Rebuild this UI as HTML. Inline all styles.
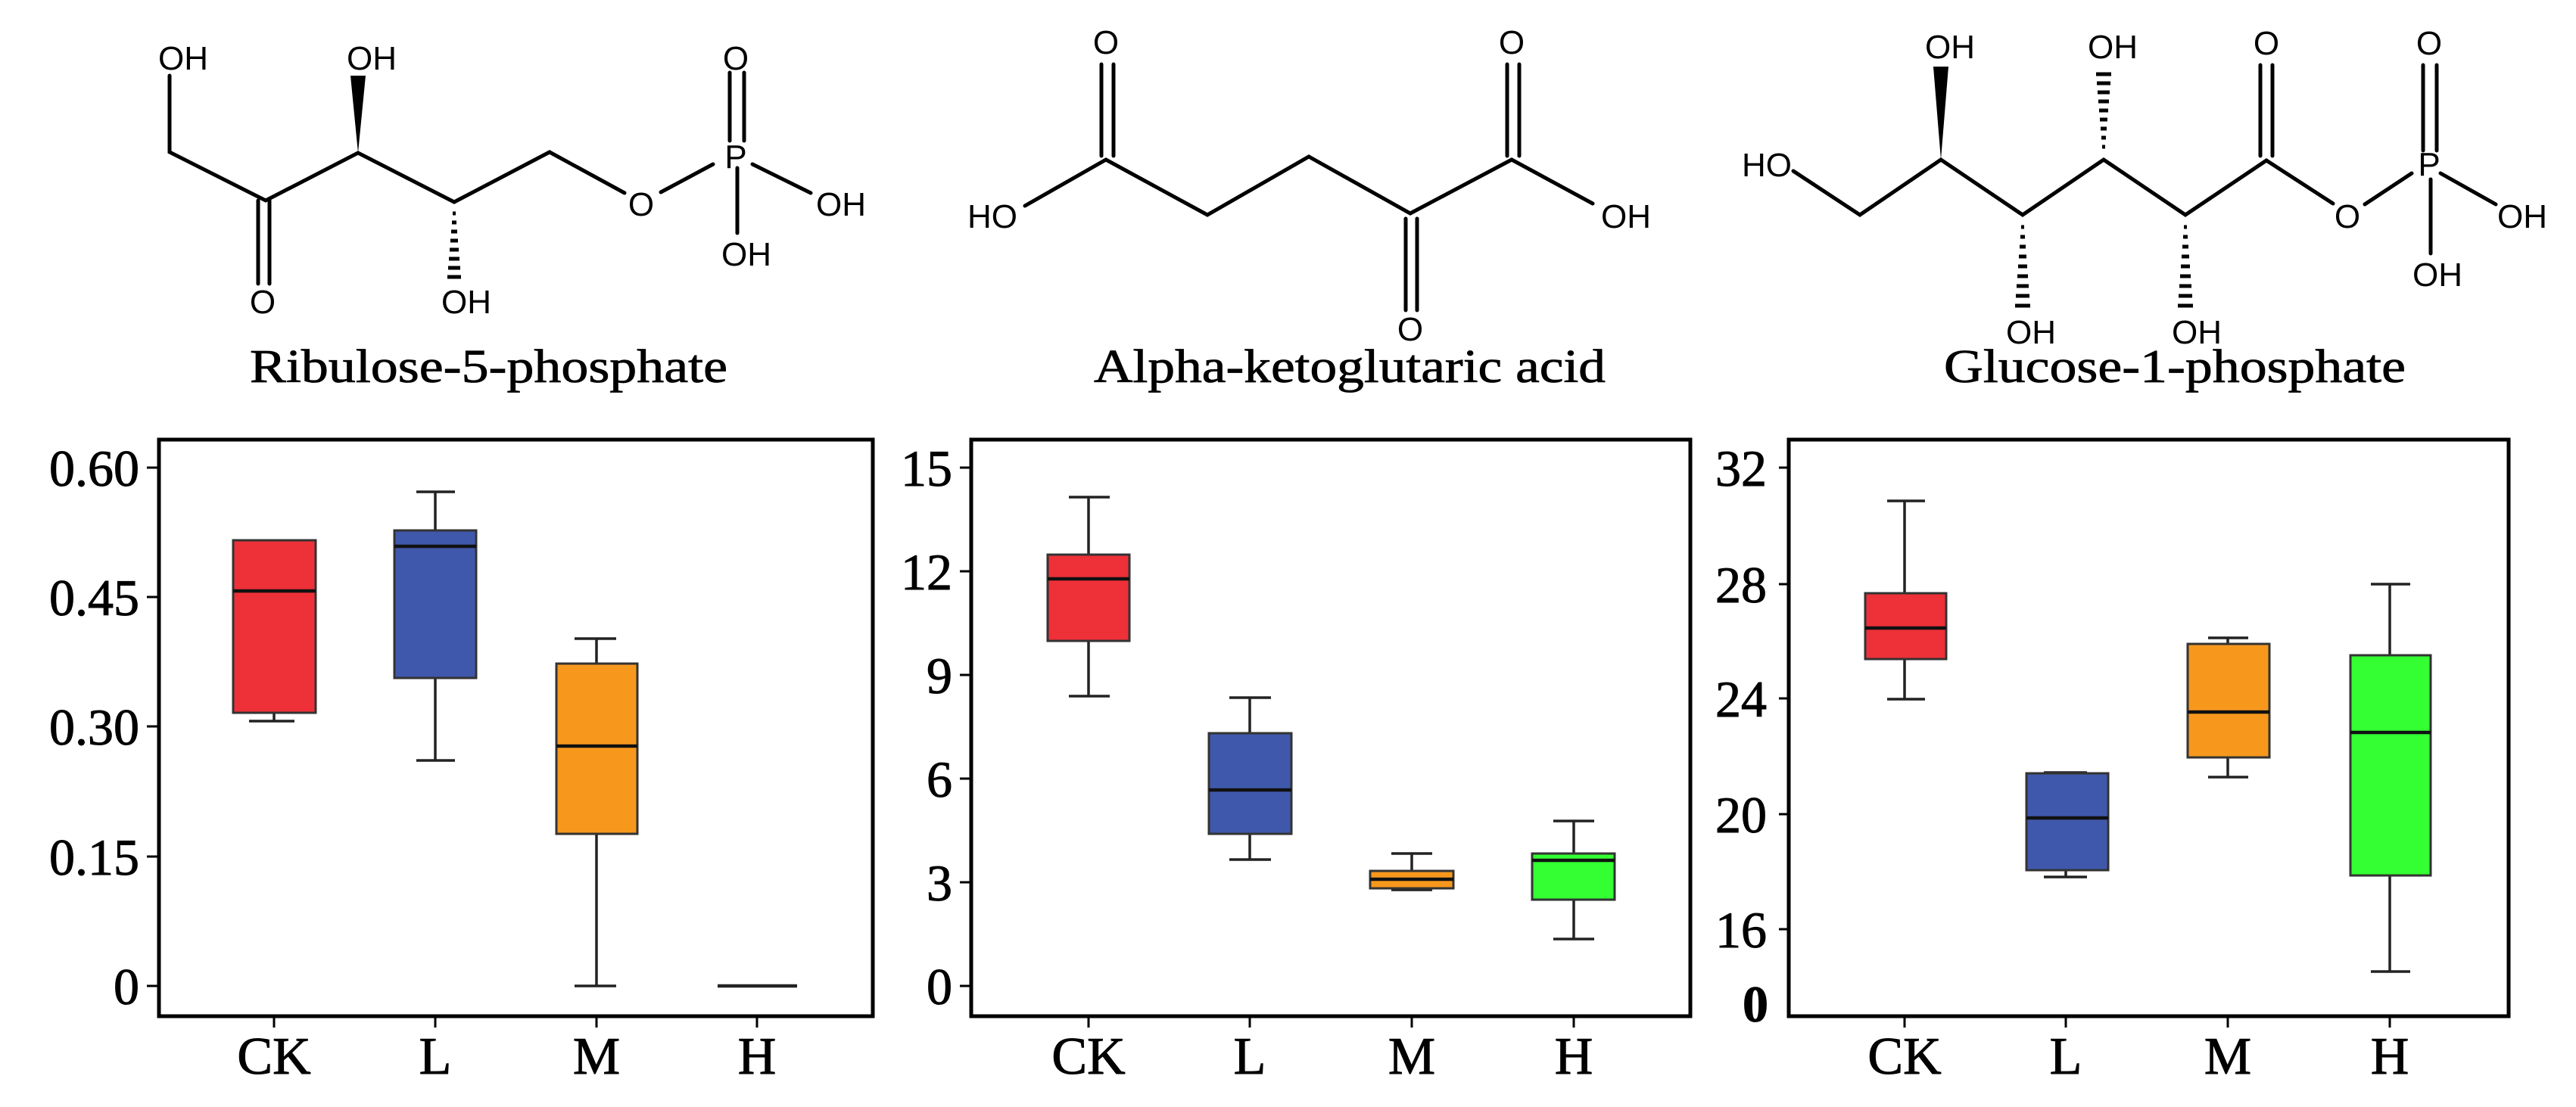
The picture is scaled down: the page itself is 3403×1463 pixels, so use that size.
<!DOCTYPE html>
<html><head><meta charset="utf-8"><style>html,body{margin:0;padding:0;background:#fff}svg{display:block}</style></head>
<body>
<svg width="3403" height="1463" viewBox="0 0 3403 1463" xmlns="http://www.w3.org/2000/svg">
<rect width="3403" height="1463" fill="#fff"/>
<!-- Molecule 1 -->
<g stroke="#000" stroke-width="5" fill="none" stroke-linecap="round">
<polyline points="224,100 224,201 351,265 473,202 600,267 726,201 825,255"/>
<line x1="341" y1="265" x2="341" y2="375"/><line x1="356" y1="265" x2="356" y2="375"/>
<line x1="873" y1="254" x2="942" y2="217"/>
<line x1="964" y1="186" x2="964" y2="96"/><line x1="983" y1="186" x2="983" y2="96"/>
<line x1="994" y1="217" x2="1071" y2="255"/>
<line x1="974" y1="222" x2="974" y2="308"/>
</g>
<polygon points="473,202 463,100 483,100" fill="#000"/>
<g stroke="#000" stroke-width="5">
<line x1="598" y1="282" x2="602" y2="282"/><line x1="597" y1="294" x2="603" y2="294"/><line x1="596" y1="306" x2="604" y2="306"/><line x1="595" y1="318" x2="605" y2="318"/><line x1="594" y1="330" x2="606" y2="330"/><line x1="593" y1="342" x2="607" y2="342"/><line x1="592" y1="354" x2="608" y2="354"/><line x1="591" y1="366" x2="609" y2="366"/>
</g>
<g font-family="Liberation Sans, sans-serif" font-size="44" text-anchor="middle" fill="#000">
<text x="242" y="92">OH</text><text x="491" y="92">OH</text><text x="347" y="414">O</text><text x="616" y="414">OH</text>
<text x="847" y="285">O</text><text x="972" y="222">P</text><text x="972" y="92">O</text><text x="1111" y="285">OH</text><text x="986" y="351">OH</text>
</g>
<!-- Molecule 2 -->
<g stroke="#000" stroke-width="5" fill="none" stroke-linecap="round">
<polyline points="1354,272 1461,211 1595,284 1729,207 1863,282 1997,211 2104,269"/>
<line x1="1455" y1="206" x2="1455" y2="85"/><line x1="1471" y1="206" x2="1471" y2="85"/>
<line x1="1857" y1="289" x2="1857" y2="410"/><line x1="1872" y1="289" x2="1872" y2="410"/>
<line x1="1991" y1="206" x2="1991" y2="85"/><line x1="2007" y1="206" x2="2007" y2="85"/>
</g>
<g font-family="Liberation Sans, sans-serif" font-size="44" text-anchor="middle" fill="#000">
<text x="1311" y="301">HO</text><text x="1461" y="71">O</text><text x="1863" y="450">O</text><text x="1997" y="71">O</text><text x="2148" y="301">OH</text>
</g>
<!-- Molecule 3 -->
<g stroke="#000" stroke-width="5" fill="none" stroke-linecap="round">
<polyline points="2369,226 2457,284 2564,211 2672,284 2779,211 2887,284 2994,212 3082,269"/>
<line x1="2986" y1="206" x2="2986" y2="86"/><line x1="3002" y1="206" x2="3002" y2="86"/>
<line x1="3124" y1="270" x2="3186" y2="229"/>
<line x1="3201" y1="199" x2="3201" y2="86"/><line x1="3219" y1="199" x2="3219" y2="86"/>
<line x1="3224" y1="229" x2="3297" y2="270"/>
<line x1="3211" y1="237" x2="3211" y2="335"/>
</g>
<polygon points="2564,211 2554,88 2574,88" fill="#000"/>
<g stroke="#000" stroke-width="5">
<line x1="2670" y1="300" x2="2674" y2="300"/><line x1="2669" y1="313" x2="2675" y2="313"/><line x1="2668" y1="326" x2="2676" y2="326"/><line x1="2667" y1="339" x2="2677" y2="339"/><line x1="2666" y1="352" x2="2678" y2="352"/><line x1="2665" y1="365" x2="2679" y2="365"/><line x1="2664" y1="378" x2="2680" y2="378"/><line x1="2663" y1="391" x2="2681" y2="391"/><line x1="2662" y1="404" x2="2682" y2="404"/>
<line x1="2885" y1="300" x2="2889" y2="300"/><line x1="2884" y1="313" x2="2890" y2="313"/><line x1="2883" y1="326" x2="2891" y2="326"/><line x1="2882" y1="339" x2="2892" y2="339"/><line x1="2881" y1="352" x2="2893" y2="352"/><line x1="2880" y1="365" x2="2894" y2="365"/><line x1="2879" y1="378" x2="2895" y2="378"/><line x1="2878" y1="391" x2="2896" y2="391"/><line x1="2877" y1="404" x2="2897" y2="404"/>
<line x1="2777" y1="194" x2="2781" y2="194"/><line x1="2776" y1="182" x2="2782" y2="182"/><line x1="2775" y1="170" x2="2783" y2="170"/><line x1="2774" y1="158" x2="2784" y2="158"/><line x1="2773" y1="146" x2="2785" y2="146"/><line x1="2772" y1="134" x2="2786" y2="134"/><line x1="2771" y1="122" x2="2787" y2="122"/><line x1="2770" y1="110" x2="2788" y2="110"/><line x1="2769" y1="98" x2="2789" y2="98"/>
</g>
<g font-family="Liberation Sans, sans-serif" font-size="44" text-anchor="middle" fill="#000">
<text x="2334" y="233">HO</text><text x="2576" y="77">OH</text><text x="2791" y="77">OH</text><text x="2683" y="454">OH</text><text x="2902" y="454">OH</text>
<text x="2994" y="72">O</text><text x="3101" y="301">O</text><text x="3209" y="232">P</text><text x="3209" y="72">O</text><text x="3332" y="301">OH</text><text x="3220" y="378">OH</text>
</g>
<!-- Titles -->
<g font-family="Liberation Serif, serif" font-size="62" fill="#000" stroke="#000" stroke-width="0.8">
<text x="330" y="505" textLength="631" lengthAdjust="spacingAndGlyphs">Ribulose-5-phosphate</text>
<text x="1445" y="505" textLength="676" lengthAdjust="spacingAndGlyphs">Alpha-ketoglutaric acid</text>
<text x="2568" y="505" textLength="610" lengthAdjust="spacingAndGlyphs">Glucose-1-phosphate</text>
</g>
<!-- Plot frames -->
<g fill="none" stroke="#000" stroke-width="5">
<rect x="210" y="581" width="943" height="762"/>
<rect x="1283" y="581" width="950" height="762"/>
<rect x="2363" y="581" width="951" height="762"/>
</g>
<!-- ticks -->
<g stroke="#000" stroke-width="3">
<line x1="194" y1="618" x2="210" y2="618"/><line x1="194" y1="789" x2="210" y2="789"/><line x1="194" y1="960" x2="210" y2="960"/><line x1="194" y1="1132" x2="210" y2="1132"/><line x1="194" y1="1303" x2="210" y2="1303"/>
<line x1="362" y1="1343" x2="362" y2="1358"/><line x1="575" y1="1343" x2="575" y2="1358"/><line x1="788" y1="1343" x2="788" y2="1358"/><line x1="1000" y1="1343" x2="1000" y2="1358"/>
<line x1="1268" y1="618" x2="1283" y2="618"/><line x1="1268" y1="755" x2="1283" y2="755"/><line x1="1268" y1="892" x2="1283" y2="892"/><line x1="1268" y1="1029" x2="1283" y2="1029"/><line x1="1268" y1="1166" x2="1283" y2="1166"/><line x1="1268" y1="1303" x2="1283" y2="1303"/>
<line x1="1438" y1="1343" x2="1438" y2="1358"/><line x1="1651" y1="1343" x2="1651" y2="1358"/><line x1="1865" y1="1343" x2="1865" y2="1358"/><line x1="2079" y1="1343" x2="2079" y2="1358"/>
<line x1="2350" y1="618" x2="2363" y2="618"/><line x1="2350" y1="772" x2="2363" y2="772"/><line x1="2350" y1="923" x2="2363" y2="923"/><line x1="2350" y1="1076" x2="2363" y2="1076"/><line x1="2350" y1="1228" x2="2363" y2="1228"/>
<line x1="2516" y1="1343" x2="2516" y2="1358"/><line x1="2729" y1="1343" x2="2729" y2="1358"/><line x1="2943" y1="1343" x2="2943" y2="1358"/><line x1="3157" y1="1343" x2="3157" y2="1358"/>
</g>
<!-- tick labels -->
<g font-family="Liberation Serif, serif" font-size="68" fill="#000" stroke="#000" stroke-width="1" text-anchor="end">
<text x="184" y="642">0.60</text><text x="184" y="813">0.45</text><text x="184" y="984">0.30</text><text x="184" y="1156">0.15</text><text x="184" y="1327">0</text>
<text x="1258" y="642">15</text><text x="1258" y="779">12</text><text x="1258" y="916">9</text><text x="1258" y="1053">6</text><text x="1258" y="1190">3</text><text x="1258" y="1327">0</text>
<text x="2334" y="642">32</text><text x="2334" y="796">28</text><text x="2334" y="947">24</text><text x="2334" y="1100">20</text><text x="2334" y="1252">16</text>
<text x="2336" y="1350" font-weight="bold">0</text>
</g>
<g font-family="Liberation Serif, serif" font-size="70" fill="#000" stroke="#000" stroke-width="1" text-anchor="middle">
<text x="362" y="1419">CK</text><text x="575" y="1419">L</text><text x="788" y="1419">M</text><text x="1000" y="1419">H</text>
<text x="1438" y="1419">CK</text><text x="1651" y="1419">L</text><text x="1865" y="1419">M</text><text x="2079" y="1419">H</text>
<text x="2516" y="1419">CK</text><text x="2729" y="1419">L</text><text x="2943" y="1419">M</text><text x="3157" y="1419">H</text>
</g>
<!-- whiskers -->
<g stroke="#222" stroke-width="3.5" fill="none">
<path d="M362,942V953M329,953H389"/>
<path d="M575,701V650M550,650H601M575,896V1005M550,1005H601"/>
<path d="M788,877V844M759,844H814M788,1102V1303M759,1303H814"/>
<path d="M948,1303H1053" stroke-width="4.5"/>
<path d="M1438,733V657M1412,657H1466M1438,847V920M1412,920H1466"/>
<path d="M1651,969V922M1624,922H1679M1651,1102V1136M1624,1136H1679"/>
<path d="M1865,1151V1128M1838,1128H1892M1865,1174V1176M1838,1176H1892"/>
<path d="M2079,1128V1085M2052,1085H2106M2079,1189V1241M2052,1241H2106"/>
<path d="M2516,784V662M2493,662H2543M2516,871V924M2493,924H2543"/>
<path d="M2700,1021H2757M2729,1150V1159M2700,1159H2757"/>
<path d="M2943,851V843M2917,843H2970M2943,1001V1027M2917,1027H2970"/>
<path d="M3157,866V772M3132,772H3184M3157,1157V1284M3132,1284H3184"/>
</g>
<!-- boxes -->
<g stroke="#333" stroke-width="3">
<rect x="308" y="714" width="109" height="228" fill="#EE3038"/>
<rect x="521" y="701" width="108" height="195" fill="#3F58AB"/>
<rect x="735" y="877" width="107" height="225" fill="#F7981D"/>
<rect x="1384" y="733" width="108" height="114" fill="#EE3038"/>
<rect x="1597" y="969" width="109" height="133" fill="#3F58AB"/>
<rect x="1810" y="1151" width="110" height="23" fill="#F7981D"/>
<rect x="2024" y="1128" width="109" height="61" fill="#33FF33"/>
<rect x="2464" y="784" width="107" height="87" fill="#EE3038"/>
<rect x="2677" y="1022" width="108" height="128" fill="#3F58AB"/>
<rect x="2890" y="851" width="108" height="150" fill="#F7981D"/>
<rect x="3105" y="866" width="106" height="291" fill="#33FF33"/>
</g>
<!-- medians -->
<g stroke="#111" stroke-width="4.5">
<line x1="308" y1="781" x2="417" y2="781"/><line x1="521" y1="722" x2="629" y2="722"/><line x1="735" y1="986" x2="842" y2="986"/>
<line x1="1384" y1="765" x2="1492" y2="765"/><line x1="1597" y1="1044" x2="1706" y2="1044"/><line x1="1810" y1="1162" x2="1920" y2="1162"/><line x1="2024" y1="1137" x2="2133" y2="1137"/>
<line x1="2464" y1="830" x2="2571" y2="830"/><line x1="2677" y1="1081" x2="2785" y2="1081"/><line x1="2890" y1="941" x2="2998" y2="941"/><line x1="3105" y1="968" x2="3211" y2="968"/>
</g>
</svg>
</body></html>
